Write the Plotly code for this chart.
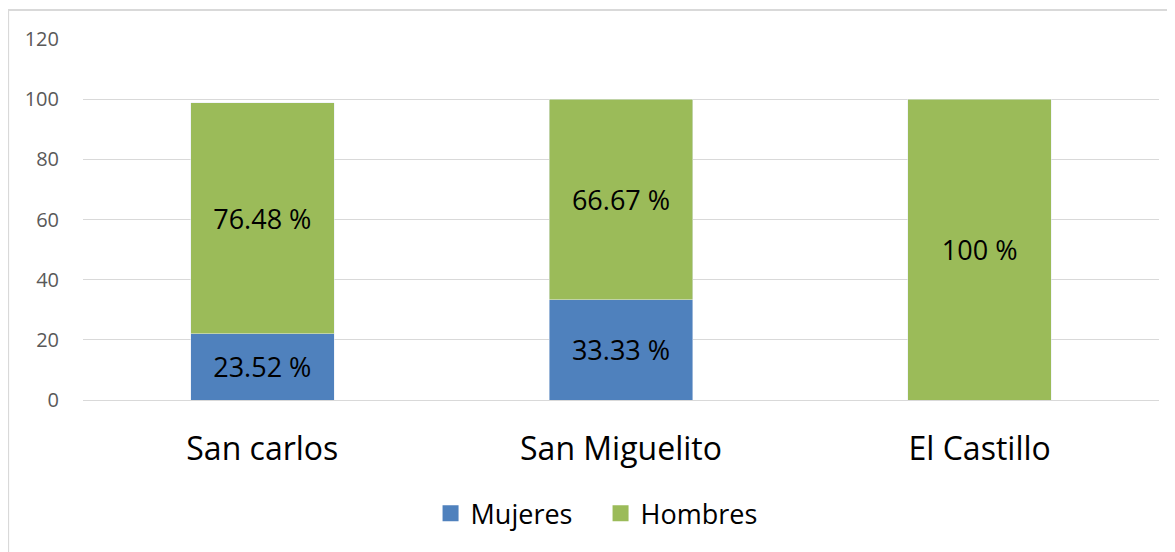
import plotly.graph_objects as go

# Valores
municipios = ["San carlos", "San Miguelito", "El Castillo"]
mujeres = [22.1, 33.3, 0]
hombres = [76.7, 66.7, 100]
mujeres_txt = ["23.52 %", "33.33 %", ""]
hombres_txt = ["76.48 %", "66.67 %", "100 %"]

FONT = "Open Sans"
AZUL = "#4F81BD"
VERDE = "#9BBB59"

fig = go.Figure()

fig.add_trace(go.Bar(
    x=municipios,
    y=mujeres,
    name="Mujeres",
    marker_color=AZUL,
    text=mujeres_txt,
    textposition="inside",
    insidetextanchor="middle",
    textangle=0,
    textfont=dict(family=FONT, size=27, color="#000000"),
    showlegend=False,
))

fig.add_trace(go.Bar(
    x=municipios,
    y=hombres,
    name="Hombres",
    marker_color=VERDE,
    text=hombres_txt,
    textposition="inside",
    insidetextanchor="middle",
    textangle=0,
    textfont=dict(family=FONT, size=27, color="#000000"),
    showlegend=False,
))

# solo para la leyenda (cuadrados más grandes, como en Excel)
for nombre, color in [("Mujeres", AZUL), ("Hombres", VERDE)]:
    fig.add_trace(go.Scatter(
        x=[None], y=[None], mode="markers", name=nombre,
        marker=dict(symbol="square", size=18, color=color),
    ))

# marco del gráfico
fig.add_shape(
    type="rect", xref="paper", yref="paper",
    x0=-0.0696, x1=1.03, y0=-0.5, y1=1.0803,
    line=dict(color="#D9D9D9", width=2), fillcolor="rgba(0,0,0,0)",
)

fig.update_layout(
    barmode="stack",
    bargap=0.6,
    width=1175,
    height=552,
    margin=dict(l=75, r=24, t=31, b=160),
    paper_bgcolor="white",
    plot_bgcolor="white",
    font=dict(family=FONT, color="#000000"),
    showlegend=True,
    legend=dict(
        orientation="h", x=0.481, xanchor="center", y=-0.315, yanchor="middle",
        font=dict(family=FONT, size=27, color="#000000"),
        traceorder="normal",
        itemsizing="trace",
        entrywidth=125,
        entrywidthmode="pixels",
    ),
)

fig.update_xaxes(
    showgrid=False,
    showline=True,
    linecolor="#D9D9D9",
    linewidth=1,
    ticks="",
    tickfont=dict(family=FONT, size=32, color="#000000"),
    ticklabelstandoff=21,
)

fig.update_yaxes(
    range=[0, 120],
    tickvals=[0, 20, 40, 60, 80, 100, 120],
    showgrid=True,
    gridcolor="#D9D9D9",
    gridwidth=1,
    zeroline=False,
    tickfont=dict(family=FONT, size=20, color="#595959"),
    ticklabelstandoff=23,
)

fig.write_html("out.html")
